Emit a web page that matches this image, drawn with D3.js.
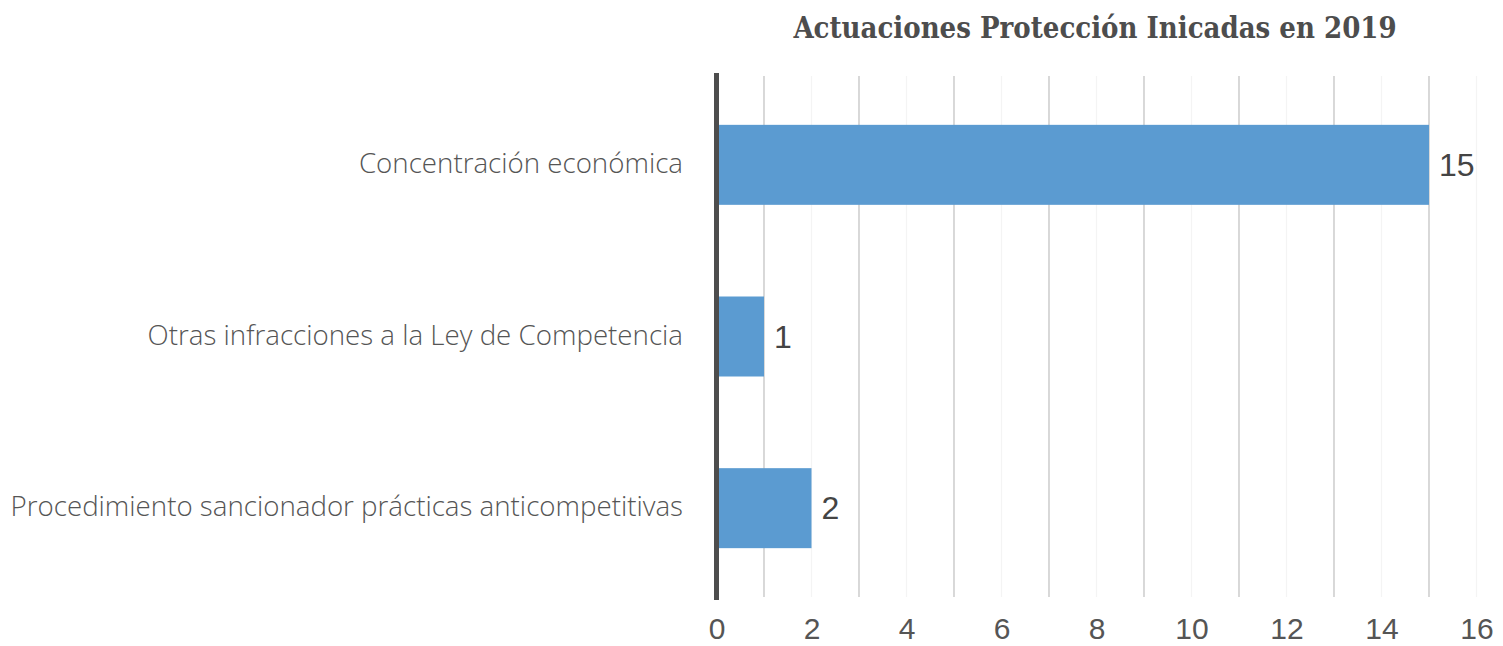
<!DOCTYPE html>
<html><head><meta charset="utf-8">
<script src="https://cdn.jsdelivr.net/npm/d3@7"></script>
<style>body{margin:0;background:#fff}svg{display:block}</style>
</head><body>
<svg id="c" width="1503" height="646"></svg>
<script>
const categories = ["Concentración económica", "Otras infracciones a la Ley de Competencia", "Procedimiento sancionador prácticas anticompetitivas"];
const values = [15, 1, 2];
const tickValues = [0, 2, 4, 6, 8, 10, 12, 14, 16];
const title = "Actuaciones Protección Inicadas en 2019";

const svg = d3.select("#c");
const x = d3.scaleLinear().domain([0, 16]).range([716.5, 1476.5]);
const y = d3.scaleBand().domain(categories).range([79, 594]).paddingInner(0.534).paddingOuter(0.267);

// gridlines
const g = svg.append("g");
d3.range(1, 17).forEach(v => {
  g.append("line").attr("x1", x(v)).attr("x2", x(v)).attr("y1", 76).attr("y2", 597)
    .attr("stroke", v % 2 === 1 ? "#c4c4c4" : "#f4f4f4").attr("stroke-width", 1.3);
});

// bars
svg.append("g").selectAll("rect").data(values).join("rect")
  .attr("x", x(0)).attr("y", (d, i) => y(categories[i]))
  .attr("width", d => x(d) - x(0)).attr("height", y.bandwidth())
  .attr("fill", "#5b9bd1");

// value labels
svg.append("g").selectAll("text").data(values).join("text")
  .attr("x", d => x(d) + 10).attr("y", (d, i) => y(categories[i]) + y.bandwidth() / 2 + 11)
  .attr("font-family", "Liberation Sans, Arial, sans-serif").attr("font-size", 32)
  .attr("fill", "#444").text(d => d);

// axis line
svg.append("line").attr("x1", x(0)).attr("x2", x(0)).attr("y1", 73).attr("y2", 600)
  .attr("stroke", "#4d4d4d").attr("stroke-width", 5);

// category labels
svg.append("g").selectAll("text").data(categories).join("text")
  .attr("x", 683).attr("y", d => y(d) + y.bandwidth() / 2 + 8)
  .attr("text-anchor", "end")
  .attr("font-family", "Open Sans, sans-serif").attr("font-weight", 300).attr("font-size", 27.7)
  .attr("fill", "#555").text(d => d);

// x axis tick labels
const xAxis = d3.axisBottom(x).tickValues(tickValues).tickSize(0).tickPadding(0);
const ax = svg.append("g").attr("transform", "translate(0,617)").call(xAxis);
ax.select(".domain").remove();
ax.selectAll("text").attr("font-family", "Liberation Sans, Arial, sans-serif").attr("font-size", 30)
  .attr("fill", "#555").attr("dy", "0.72em");

// title
svg.append("text").attr("x", 1095).attr("y", 38).attr("text-anchor", "middle")
  .attr("font-family", "DejaVu Serif Condensed, DejaVu Serif, serif").attr("font-weight", "bold").attr("font-size", 29)
  .attr("fill", "#4d4d4d").text(title);
</script>
</body></html>
